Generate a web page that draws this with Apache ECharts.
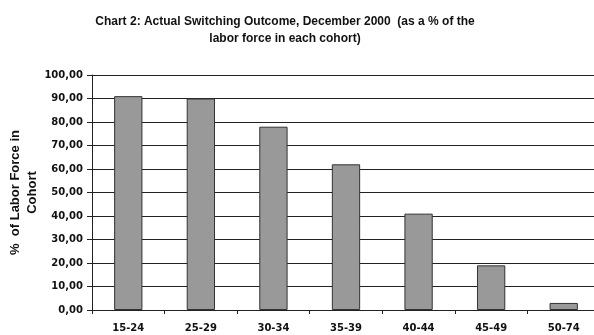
<!DOCTYPE html>
<html>
<head>
<meta charset="utf-8">
<script src="https://cdn.jsdelivr.net/npm/echarts@6/dist/echarts.min.js"></script>
<style>
  html, body { margin: 0; padding: 0; background: #fff; }
  #chart { width: 594px; height: 335px; }
</style>
</head>
<body>
<div id="chart"></div>
<script>
// Age cohorts and share of the labor force that switched (%)
var cohorts = ['15-24', '25-29', '30-34', '35-39', '40-44', '45-49', '50-74'];
var switchedShare = [91, 90, 78, 62, 41, 19, 3];
var yTicks = [0, 10, 20, 30, 40, 50, 60, 70, 80, 90, 100];

var chart = echarts.init(document.getElementById('chart'), null, { renderer: 'canvas' });

chart.setOption({
  animation: false,
  backgroundColor: '#ffffff',
  title: {
    text: 'Chart 2: Actual Switching Outcome, December 2000  (as a % of the\nlabor force in each cohort)',
    left: 280,
    textAlign: 'center',
    top: 8,
    textStyle: {
      fontFamily: 'Liberation Sans, Arial, sans-serif',
      fontWeight: 'bold',
      fontSize: 12,
      lineHeight: 17,
      color: '#111'
    }
  },
  grid: { left: 92, top: 75, width: 508, height: 235, containLabel: false, outerBoundsMode: 'none' },
  xAxis: {
    type: 'category',
    data: cohorts,
    axisLine: { lineStyle: { color: '#222', width: 1 } },
    axisTick: { show: true, inside: false, length: 4, alignWithLabel: false, lineStyle: { color: '#222' } },
    axisLabel: {
      margin: 13,
      fontFamily: 'DejaVu Sans, Verdana, sans-serif',
      fontWeight: 'bold',
      fontSize: 10,
      color: '#111'
    },
    splitLine: { show: false }
  },
  yAxis: {
    type: 'value',
    min: yTicks[0],
    max: yTicks[yTicks.length - 1],
    interval: 10,
    name: '%  of Labor Force in\nCohort',
    nameLocation: 'middle',
    nameGap: 51,
    nameRotate: 90,
    nameMoveOverlap: false,
    nameTextStyle: {
      fontFamily: 'Liberation Sans, Arial, sans-serif',
      fontWeight: 'bold',
      fontSize: 13,
      lineHeight: 17,
      color: '#111'
    },
    axisLine: { show: true, lineStyle: { color: '#222', width: 1 } },
    axisTick: { show: true, inside: false, length: 5, lineStyle: { color: '#222' } },
    axisLabel: {
      margin: 9,
      fontFamily: 'DejaVu Sans, Verdana, sans-serif',
      fontWeight: 'bold',
      fontSize: 10,
      color: '#111',
      formatter: function (v) { return v.toFixed(2).replace('.', ','); }
    },
    splitLine: { show: true, lineStyle: { color: '#222', width: 1 } }
  },
  series: [{
    type: 'bar',
    data: switchedShare,
    barWidth: '39%',
    itemStyle: { color: '#999999', borderColor: '#333333', borderWidth: 1 }
  }]
});
</script>
</body>
</html>
